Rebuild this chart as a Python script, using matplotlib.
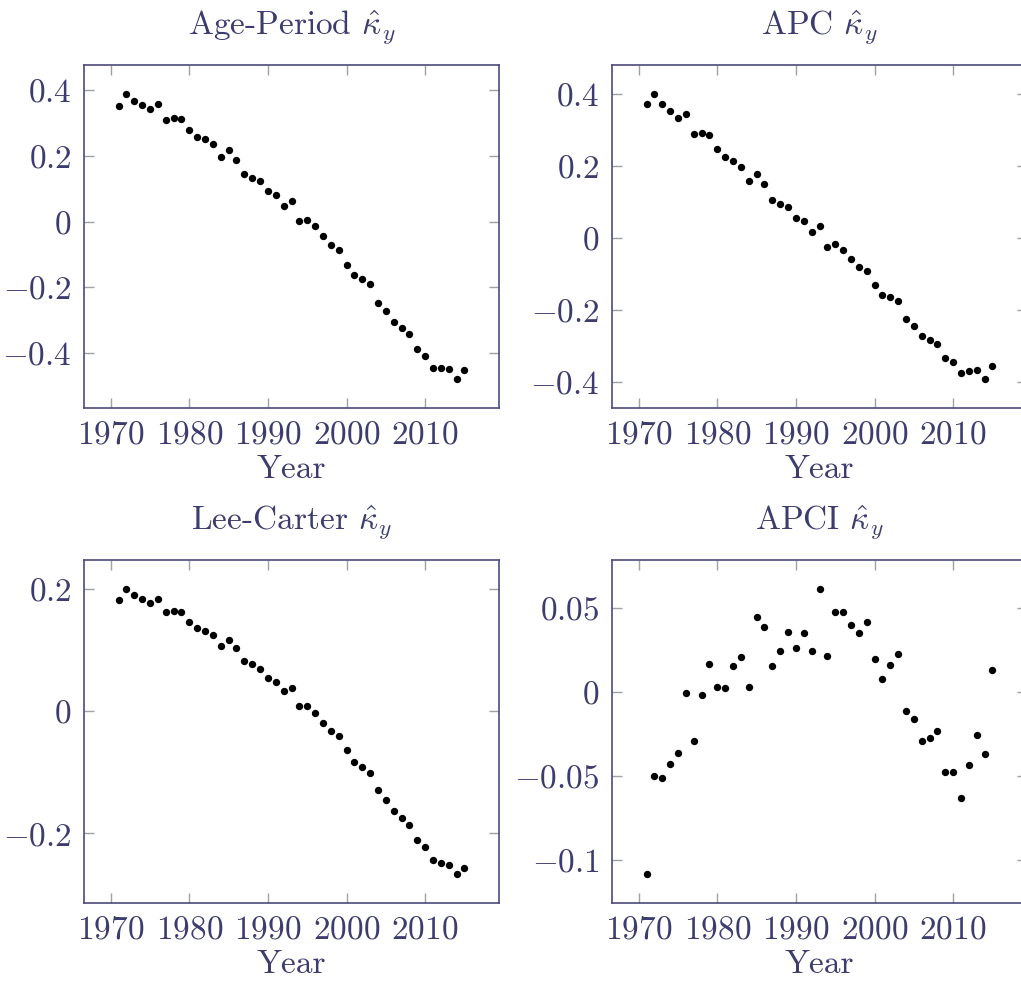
import numpy as np
import matplotlib
matplotlib.use("Agg")
import matplotlib.pyplot as plt
from matplotlib.ticker import FuncFormatter

plt.rcParams['font.family'] = 'serif'
plt.rcParams['font.serif'] = ['cmr10']
plt.rcParams['mathtext.fontset'] = 'cm'
plt.rcParams['axes.formatter.use_mathtext'] = True

years = list(range(1971, 2016))

kappa_ap = [0.352, 0.390, 0.368, 0.356, 0.342, 0.358, 0.309, 0.316, 0.314, 0.279,
            0.258, 0.251, 0.236, 0.196, 0.218, 0.189, 0.146, 0.133, 0.123, 0.092,
            0.080, 0.048, 0.064, 0.002, 0.006, -0.014, -0.045, -0.071, -0.087, -0.131,
            -0.163, -0.176, -0.191, -0.247, -0.272, -0.307, -0.325, -0.343, -0.388, -0.409,
            -0.446, -0.446, -0.450, -0.481, -0.452]

kappa_apc = [0.371, 0.400, 0.371, 0.352, 0.331, 0.342, 0.288, 0.290, 0.284, 0.246,
             0.223, 0.214, 0.196, 0.157, 0.177, 0.148, 0.105, 0.093, 0.085, 0.055,
             0.045, 0.016, 0.033, -0.026, -0.018, -0.035, -0.060, -0.082, -0.092, -0.131,
             -0.159, -0.166, -0.175, -0.225, -0.245, -0.273, -0.285, -0.296, -0.334, -0.347,
             -0.376, -0.371, -0.368, -0.394, -0.357]

kappa_lc = [0.183, 0.201, 0.190, 0.184, 0.177, 0.184, 0.162, 0.165, 0.163, 0.147,
            0.137, 0.132, 0.125, 0.107, 0.116, 0.104, 0.083, 0.077, 0.070, 0.055,
            0.048, 0.033, 0.039, 0.008, 0.009, -0.003, -0.019, -0.032, -0.041, -0.064,
            -0.083, -0.091, -0.101, -0.129, -0.145, -0.163, -0.175, -0.186, -0.210, -0.222,
            -0.243, -0.248, -0.251, -0.267, -0.256]

kappa_apci = [-0.1087, -0.0497, -0.0513, -0.0426, -0.0362, -0.0004, -0.0291, -0.0014, 0.0168, 0.0028,
              0.0024, 0.0156, 0.0210, 0.0032, 0.0450, 0.0386, 0.0158, 0.0244, 0.0358, 0.0261,
              0.0354, 0.0248, 0.0618, 0.0216, 0.0479, 0.0479, 0.0402, 0.0356, 0.0420, 0.0198,
              0.0079, 0.0164, 0.0226, -0.0115, -0.0162, -0.0291, -0.0271, -0.0232, -0.0477, -0.0477,
              -0.0632, -0.0434, -0.0253, -0.0368, 0.0133]

titles = [r"Age-Period $\hat{\kappa}_y$", r"APC $\hat{\kappa}_y$",
          r"Lee-Carter $\hat{\kappa}_y$", r"APCI $\hat{\kappa}_y$"]
series = [kappa_ap, kappa_apc, kappa_lc, kappa_apci]
yticks = [[-0.4, -0.2, 0, 0.2, 0.4], [-0.4, -0.2, 0, 0.2, 0.4],
          [-0.2, 0, 0.2], [-0.1, -0.05, 0, 0.05]]
xticks = [1970, 1980, 1990, 2000, 2010]

text_col = '#3c3c6e'
spine_col = '#4a4a7c'
tick_col = '#a0a0a8'

W, H = 1021, 982
fig = plt.figure(figsize=(W / 100, H / 100), dpi=100)
# right column runs past the picture edge, as in the original
boxes = [(84, 65), (612, 65), (84, 560), (612, 560)]
aw, ah = 415, 343


def fmt(v, pos):
    if abs(v) < 1e-12:
        return r"$0$"
    return r"$%g$" % v


for (x0, y0), title, vals, yt in zip(boxes, titles, series, yticks):
    ax = fig.add_axes([x0 / W, 1 - (y0 + ah) / H, aw / W, ah / H])
    ax.scatter(years, vals, s=28, color='black', zorder=3, linewidths=0)
    ax.margins(0.1)
    ax.set_xticks(xticks)
    ax.set_yticks(yt)
    ax.xaxis.set_major_formatter(FuncFormatter(lambda v, p: r"$%d$" % v))
    ax.yaxis.set_major_formatter(FuncFormatter(fmt))
    ax.tick_params(direction='in', length=7, width=1, color=tick_col,
                   labelcolor=text_col, labelsize=24, top=True, right=True, pad=9)
    for sp in ax.spines.values():
        sp.set_color(spine_col)
        sp.set_linewidth(1.2)
    ax.set_title(title, fontsize=24, color=text_col, pad=22)
    ax.set_xlabel("Year", fontsize=24, color=text_col, labelpad=4)

fig.savefig("out.png", dpi=100)
